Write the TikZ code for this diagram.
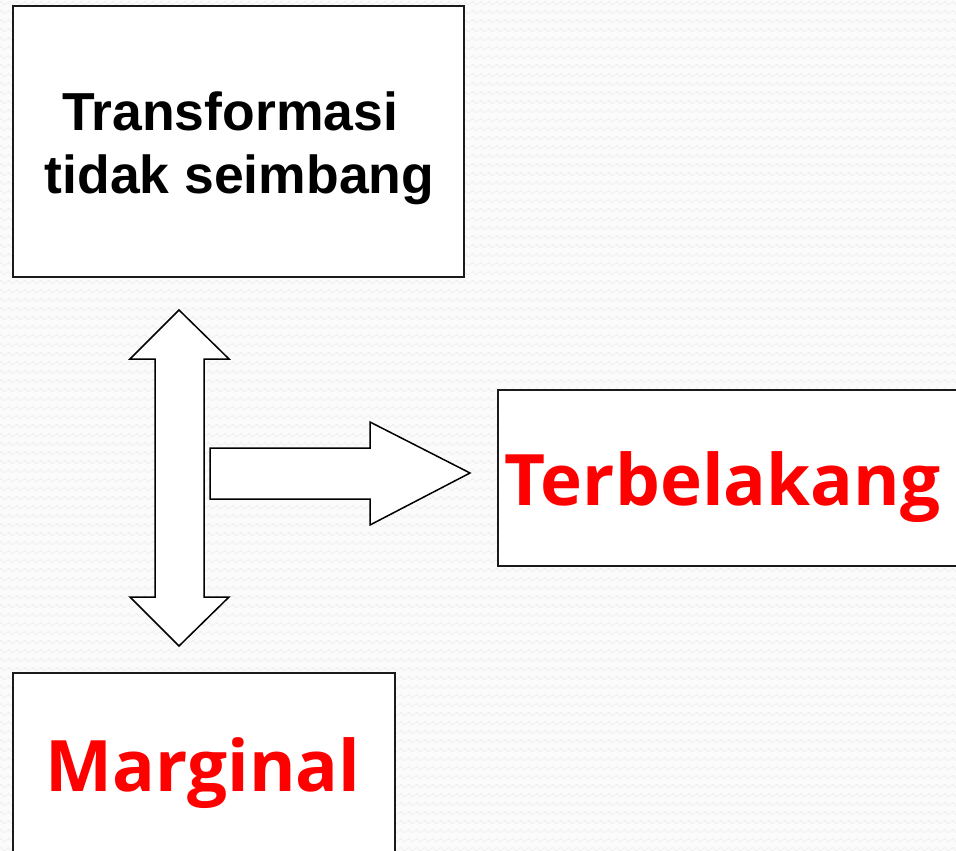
\documentclass[tikz,border=0pt]{standalone}
\usepackage{fontspec}
\setmainfont{Liberation Sans}
\newfontfamily\redfont{Open Sans}
\usetikzlibrary{patterns}
\pgfdeclarepatternformonly{bgwaves}{\pgfpointorigin}{\pgfpoint{8pt}{9pt}}{\pgfpoint{8pt}{9pt}}{
  \pgfsetlinewidth{0.9pt}
  \pgfpathmoveto{\pgfpoint{0pt}{2pt}}
  \pgfpathlineto{\pgfpoint{2pt}{4pt}}
  \pgfpathlineto{\pgfpoint{6pt}{0pt}}
  \pgfpathlineto{\pgfpoint{8pt}{2pt}}
  \pgfusepath{stroke}
}
\definecolor{bgcol}{HTML}{FBFBFB}
\definecolor{wavecol}{HTML}{EEEEEE}
\definecolor{linecol}{HTML}{1A1A1A}
\definecolor{txtred}{HTML}{FF0000}
\tikzset{
  box/.style={draw=linecol, line width=1.8pt, fill=white},
  bigarrow/.style={draw=black, line width=1.5pt, fill=white, line join=miter},
  blacklabel/.style={font=\fontsize{53.5}{60}\selectfont\bfseries, text=black, inner sep=0pt},
  redlabel/.style={font=\redfont\fontsize{71}{80}\selectfont\bfseries, text=txtred, inner sep=0pt}
}
\begin{document}
\begin{tikzpicture}[x=1pt,y=-1pt]
\clip (0,0) rectangle (956,851);
\fill[bgcol] (0,0) rectangle (956,851);
\fill[pattern=bgwaves, pattern color=wavecol] (0,0) rectangle (956,851);

% boxes
\draw[box] (13,6) rectangle (464,277);
\draw[box] (498,390) rectangle (975,566);
\draw[box] (13,673) rectangle (395,870);

% labels
\node[blacklabel, anchor=base] (l1) at (230,130) {Transformasi};
\node[blacklabel, anchor=base] (l2) at (239.5,193) {tidak seimbang};
\node[redlabel, anchor=base] (l3) at (722.5,505) {Terbelakang};
\node[redlabel, anchor=base] (l4) at (203,791) {Marginal};

% vertical double arrow
\draw[bigarrow] (179,310) -- (229,359) -- (204,359) -- (204,597) -- (229,597)
  -- (179,646) -- (130,597) -- (155,597) -- (155,359) -- (130,359) -- cycle;

% right arrow
\draw[bigarrow] (210,448) -- (370,448) -- (370,422) -- (470,473) -- (370,525)
  -- (370,499) -- (210,499) -- cycle;
\end{tikzpicture}
\end{document}
